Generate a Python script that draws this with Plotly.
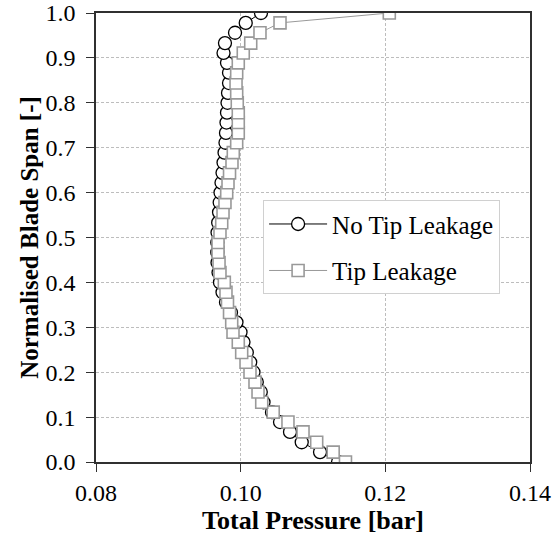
import plotly.graph_objects as go

# normalised blade span (46 stations, hub to tip)
span = [0.000, 0.022, 0.044, 0.067, 0.089, 0.111, 0.133, 0.156, 0.178, 0.200,
        0.222, 0.244, 0.267, 0.289, 0.311, 0.333, 0.356, 0.378, 0.400, 0.422,
        0.444, 0.467, 0.489, 0.511, 0.533, 0.556, 0.578, 0.600, 0.622, 0.644,
        0.667, 0.689, 0.711, 0.733, 0.756, 0.778, 0.800, 0.822, 0.844, 0.867,
        0.889, 0.911, 0.933, 0.956, 0.978, 1.000]

# total pressure [bar]
p_no_tip = [0.11346, 0.11097, 0.10844, 0.10682, 0.10544, 0.10433, 0.10316, 0.10278,
            0.10223, 0.10177, 0.10132, 0.10085, 0.10039, 0.09998, 0.09942, 0.09866,
            0.09797, 0.09749, 0.09714, 0.09694, 0.09680, 0.09677, 0.09677, 0.09680,
            0.09689, 0.09701, 0.09710, 0.09721, 0.09735, 0.09749, 0.09763, 0.09777,
            0.09790, 0.09797, 0.09804, 0.09811, 0.09818, 0.09825, 0.09839, 0.09839,
            0.09811, 0.09763, 0.09783, 0.09922, 0.10070, 0.10281]

p_tip = [0.11449, 0.11279, 0.11051, 0.10862, 0.10654, 0.10450, 0.10291, 0.10240,
         0.10198, 0.10129, 0.10074, 0.10014, 0.09967, 0.09894, 0.09876, 0.09846,
         0.09818, 0.09797, 0.09774, 0.09714, 0.09701, 0.09687, 0.09687, 0.09714,
         0.09738, 0.09756, 0.09783, 0.09807, 0.09825, 0.09846, 0.09880, 0.09898,
         0.09945, 0.09967, 0.09967, 0.09967, 0.09953, 0.09945, 0.09936, 0.09945,
         0.09967, 0.10036, 0.10139, 0.10267, 0.10544, 0.12055]

x_ticks = [0.08, 0.10, 0.12, 0.14]
y_ticks = [0.0, 0.1, 0.2, 0.3, 0.4, 0.5, 0.6, 0.7, 0.8, 0.9, 1.0]

FONT = "Liberation Serif"

fig = go.Figure()
fig.add_trace(go.Scatter(
    x=p_no_tip, y=span, mode="lines+markers", name="No Tip Leakage",
    legendgroup="a",
    line=dict(color="black", width=1),
    marker=dict(symbol="circle", size=13, color="white",
                line=dict(color="black", width=1.3)),
))
fig.add_trace(go.Scatter(
    x=p_tip, y=span, mode="lines+markers", name="Tip Leakage",
    legendgroup="b",
    line=dict(color="#999999", width=1),
    marker=dict(symbol="square", size=12, color="white",
                line=dict(color="#999999", width=1.6)),
))

fig.update_layout(
    width=553, height=540,
    margin=dict(l=96, r=23, t=13, b=78),
    paper_bgcolor="white", plot_bgcolor="white",
    font=dict(family=FONT, size=24, color="black"),
    showlegend=True,
    legend=dict(
        x=0.385, y=0.583, xanchor="left", yanchor="top",
        bgcolor="white", bordercolor="#d0d0d0", borderwidth=1,
        font=dict(family=FONT, size=25),
        tracegroupgap=11, itemwidth=58,
    ),
)
fig.update_xaxes(
    range=[0.08, 0.14], tickvals=x_ticks, ticktext=[f"{v:.2f}" for v in x_ticks],
    tickfont=dict(family=FONT, size=24), ticklabeloverflow="allow",
    showline=True, linecolor="#303030", linewidth=1.5, mirror=True,
    ticks="outside", ticklen=8, tickcolor="#303030", automargin=False,
    showgrid=True, gridcolor="#bdbdbd", griddash="3px,2px", gridwidth=1,
    zeroline=False,
    title=dict(text="<b>Total Pressure [bar]</b>", font=dict(family=FONT, size=26), standoff=4),
)
fig.update_yaxes(
    range=[0.0, 1.0], tickvals=y_ticks, ticktext=[f"{v:.1f}" for v in y_ticks],
    tickfont=dict(family=FONT, size=24), ticklabeloverflow="allow",
    showline=True, linecolor="#303030", linewidth=1.5, mirror=True,
    ticks="outside", ticklen=8, tickcolor="#303030", ticklabelstandoff=6, automargin=False,
    showgrid=True, gridcolor="#bdbdbd", griddash="3px,2px", gridwidth=1,
    zeroline=False,
    title=dict(text="<b>Normalised Blade Span [-]</b>", font=dict(family=FONT, size=25), standoff=0),
)

# drop the page's default body margin so the figure fills the window
fig.write_html("out.html",
               config={"displayModeBar": False},
               post_script="document.body.style.margin='0';document.body.style.overflow='hidden';")
